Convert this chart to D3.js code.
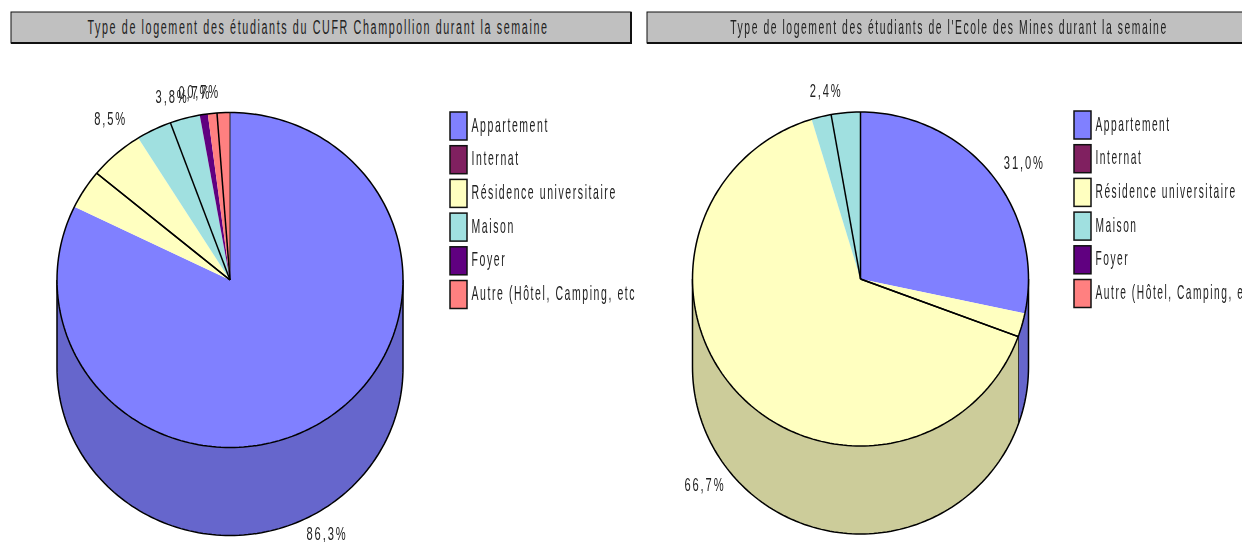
<!DOCTYPE html>
<html>
<head>
<meta charset="utf-8">
<script src="https://cdn.jsdelivr.net/npm/d3@7"></script>
<style>
  html, body { margin: 0; padding: 0; background: #fff; overflow: hidden; }
  svg { filter: blur(0.35px); }
  text { font-family: "Liberation Sans", Arial, sans-serif; fill: #222; }
</style>
</head>
<body>
<script>
var categories = ["Appartement", "Internat", "Résidence universitaire", "Maison", "Foyer", "Autre (Hôtel, Camping, etc"];
var colors = ["#8080ff", "#802060", "#ffffc0", "#a0e0e0", "#600080", "#ff8080"];
var wallColors = ["#6666cc", "#661a4d", "#cccc9a", "#80b3b3", "#4d0066", "#cc6666"];

// printed percentages
var valuesCufr = [86.3, 0, 8.5, 3.8, 0.7, 0.7];
var valuesMines = [31.0, 0, 66.7, 2.4, 0, 0];
// where the black spokes and the side wall really fall
var spokesCufr = [86.0, 0, 8.4, 4.4, 0.6, 0.6];
var spokesMines = [30.6, 0, 66.6, 2.8, 0, 0];
// the colour areas on the top face do not line up with the printed values either
var paintedCufr = [82.2, 0, 8.9, 6.1, 0.75, 2.05];
var paintedMines = [28.3, 0, 67, 4.7, 0, 0];

var titleCufr = "Type de logement des étudiants du CUFR Champollion durant la semaine";
var titleMines = "Type de logement des étudiants de l'Ecole des Mines durant la semaine";

var width = 1242, height = 542;
var svg = d3.select("body").append("svg").attr("width", width).attr("height", height);

var angle = d3.scaleLinear().domain([0, 100]).range([0, 2 * Math.PI]);
var pctFmt = function(v) { return v.toFixed(1).replace(".", ",") + "%"; };

function squeezed(parent, x, y, str, size, sx, spacing, anchor) {
  return parent.append("text")
    .attr("transform", "translate(" + x + "," + y + ") scale(" + sx + ",1)")
    .attr("text-anchor", anchor || "start")
    .style("font-size", size + "px")
    .style("letter-spacing", spacing + "px")
    .text(str);
}

function drawChart(o) {
  var g = svg.append("g");

  // title box, thick on bottom and right
  g.append("rect").attr("x", o.box[0]).attr("y", 12).attr("width", o.box[1] - o.box[0]).attr("height", 31)
    .attr("fill", "#c0c0c0").attr("stroke", "#111").attr("stroke-width", 1);
  g.append("path")
    .attr("d", "M" + o.box[0] + ",43H" + o.box[1] + "V12")
    .attr("fill", "none").attr("stroke", "#111").attr("stroke-width", 2);
  squeezed(g, o.titleX, 34, o.title, 20, o.titleSx, 3, "middle");

  var px = function(a, dy) { return [o.cx + o.rx * Math.sin(a), o.cy - o.ry * Math.cos(a) + (dy || 0)]; };
  var line = d3.line();

  // side wall, visible from 90 to 270 degrees
  var cum = 0;
  o.spokes.forEach(function(v, i) {
    var a0 = Math.max(angle(cum), Math.PI / 2), a1 = Math.min(angle(cum + v), 3 * Math.PI / 2);
    cum += v;
    if (a1 <= a0) return;
    var steps = d3.range(0, 61).map(function(k) { return a0 + (a1 - a0) * k / 60; });
    var pts = steps.map(function(a) { return px(a); }).concat(steps.slice().reverse().map(function(a) { return px(a, o.depth); }));
    g.append("path").attr("d", line(pts) + "Z").attr("fill", wallColors[i]);
    // edge of the wall between two slices
    if (a1 < 3 * Math.PI / 2) {
      g.append("path").attr("d", line([px(a1), px(a1, o.depth)])).attr("stroke", "#000").attr("stroke-width", 1.4);
    }
  });

  // wall outline
  var bottom = d3.range(0, 121).map(function(k) { return px(Math.PI / 2 + Math.PI * k / 120, o.depth); });
  g.append("path")
    .attr("d", line([px(Math.PI / 2)].concat(bottom).concat([px(3 * Math.PI / 2)])))
    .attr("fill", "none").attr("stroke", "#000").attr("stroke-width", 1.5);

  // top face, d3.arc on a circle and squashed to the ellipse
  var pie = d3.pie().sort(null).value(function(d) { return d; }).startAngle(0).endAngle(2 * Math.PI);
  var arc = d3.arc().innerRadius(0).outerRadius(o.rx);
  var top = g.append("g").attr("transform", "translate(" + o.cx + "," + o.cy + ") scale(1," + (o.ry / o.rx) + ")");
  top.selectAll("path").data(pie(o.painted)).enter().append("path")
    .attr("d", arc)
    .attr("fill", function(d, i) { return colors[i]; });

  // rim
  var rim = d3.range(0, 241).map(function(k) { return px(2 * Math.PI * k / 240); });
  g.append("path").attr("d", line(rim) + "Z").attr("fill", "none").attr("stroke", "#000").attr("stroke-width", 1.5);

  // spokes, the last boundary of the list is not drawn in the original
  g.append("path").attr("d", line([[o.cx, o.cy], px(0)])).attr("stroke", "#222").attr("stroke-width", 1);
  d3.cumsum(o.spokes).slice(0, 4).forEach(function(c) {
    if (c >= 100) return;
    g.append("path").attr("d", line([[o.cx, o.cy], px(angle(c))])).attr("stroke", "#000").attr("stroke-width", 1.5);
  });

  // value labels
  var acc = 0, lab = 0;
  o.values.forEach(function(v) {
    var mid = angle(acc + v / 2);
    acc += v;
    if (v <= 0) return;
    var n = o.nudge[lab++];
    var p = px(mid);
    var x = o.cx + (p[0] - o.cx) * 1.15 + n[0];
    var y = o.cy + (p[1] - o.cy) * 1.15 + (Math.cos(mid) < 0 ? o.depth : 0) + n[1];
    squeezed(g, x, y, pctFmt(v), 18, 0.62, 3, "middle");
  });

  // legend
  var legendY = d3.scaleBand().domain(categories).range([o.legend[1], o.legend[1] + 33.7 * 6]);
  var items = g.selectAll(".legend").data(categories).enter().append("g").attr("class", "legend");
  items.append("rect")
    .attr("x", o.legend[0]).attr("y", function(d) { return legendY(d); })
    .attr("width", 17).attr("height", 28)
    .attr("fill", function(d, i) { return colors[i]; })
    .attr("stroke", "#111").attr("stroke-width", 1.5);
  items.each(function(d) {
    squeezed(d3.select(this), o.legend[0] + 21.5, legendY(d) + 19.5, d, 20, o.legendSx, 3);
  });
}

drawChart({
  title: titleCufr, titleX: 318, titleSx: 0.538, box: [11, 631],
  values: valuesCufr, spokes: spokesCufr, painted: paintedCufr,
  cx: 230, cy: 280, rx: 173, ry: 167.5, depth: 88,
  legend: [450, 112], legendSx: 0.525,
  nudge: [[14, -3], [-8, 5], [-17, 11], [-22, 11], [-22, 11]]
});

drawChart({
  title: titleMines, titleX: 949, titleSx: 0.519, box: [647, 1250],
  values: valuesMines, spokes: spokesMines, painted: paintedMines,
  cx: 860.5, cy: 279, rx: 168, ry: 167, depth: 88,
  legend: [1074, 111], legendSx: 0.51,
  nudge: [[4, -2], [-4, 5], [-21, 10]]
});
</script>
</body>
</html>
